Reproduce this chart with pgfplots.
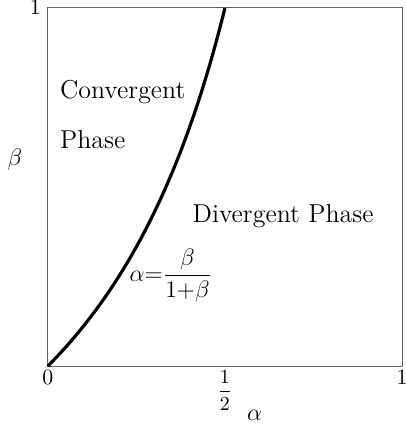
\documentclass[border=0pt]{standalone}
\usepackage{amsmath}
\usepackage{pgfplots}
\pgfplotsset{compat=1.18}
\begin{document}
\begin{tikzpicture}
\begin{axis}[
    scale only axis,
    width=178pt, height=180pt,
    xmin=0, xmax=1, ymin=0, ymax=1,
    xtick={0,0.5,1}, xticklabels={$0$,{\fontsize{10}{12}\selectfont$\dfrac{1}{2}$},$1$},
    ytick={1}, yticklabels={$1$},
    ticklabel style={font=\fontsize{11}{13}\selectfont},
    xticklabel style={yshift=1.5pt},
    major tick length=0pt,
    axis line style={gray!80!black, line width=0.5pt},
    clip=false,
]
% alpha = beta/(1+beta), beta from 0 to 1
\addplot[black, line width=1.6pt, smooth] coordinates {
    (0,0) (0.0476,0.05) (0.0909,0.1) (0.1304,0.15) (0.1667,0.2) (0.2,0.25)
    (0.2308,0.3) (0.2593,0.35) (0.2857,0.4) (0.3103,0.45) (0.3333,0.5)
    (0.3548,0.55) (0.375,0.6) (0.3939,0.65) (0.4118,0.7) (0.4286,0.75)
    (0.4444,0.8) (0.4595,0.85) (0.4737,0.9) (0.4872,0.95) (0.5,1)
};
\node[anchor=west, font=\fontsize{13}{15}\selectfont] at (axis cs:0.015,0.764) {Convergent};
\node[anchor=west, font=\fontsize{13}{15}\selectfont] at (axis cs:0.015,0.633) {Phase};
\node[anchor=west, font=\fontsize{13}{15}\selectfont] at (axis cs:0.389,0.419) {Divergent Phase};
\node[anchor=west, font=\fontsize{12}{14}\selectfont, inner sep=0pt] at (axis cs:0.23,0.253) {$\alpha{=}\dfrac{\beta}{1{+}\beta}$};
\node[font=\fontsize{12}{14}\selectfont] at (axis cs:-0.093,0.578) {$\beta$};
\node[font=\fontsize{12}{14}\selectfont] at (axis cs:0.584,-0.136) {$\alpha$};
\end{axis}
\pgfresetboundingbox
\path ([shift={(-24pt,-30pt)}]current axis.south west) rectangle ([shift={(1.5pt,4pt)}]current axis.north east);
\end{tikzpicture}
\end{document}
